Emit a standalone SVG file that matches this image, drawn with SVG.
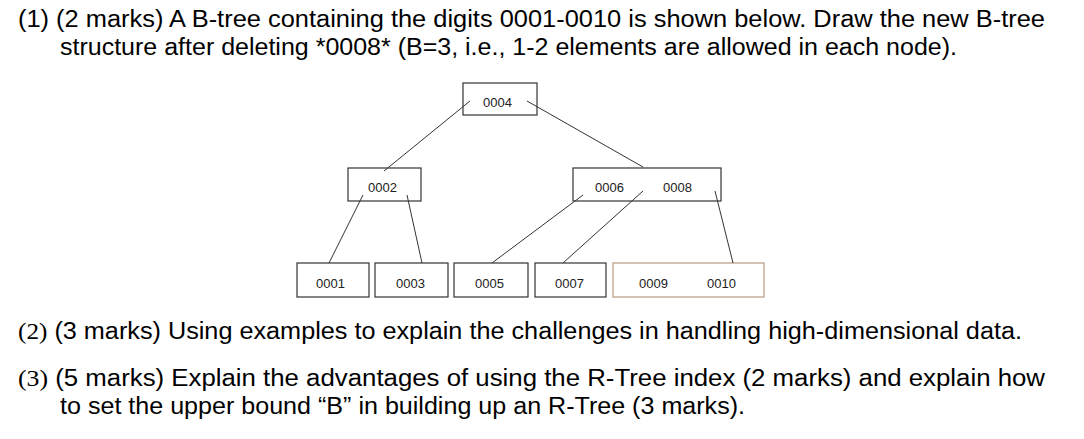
<svg xmlns="http://www.w3.org/2000/svg" width="1084" height="439" viewBox="0 0 1084 439">
<style>
.t{font-family:"Liberation Sans",Arial,sans-serif;font-size:23.5px;fill:#000}
.s{font-family:"Liberation Serif",serif}
.n rect{fill:#fff;stroke:#333;stroke-width:1.2}
.n text{font-family:"Liberation Sans",Arial,sans-serif;font-size:13px;fill:#222}
.c line{stroke:#333;stroke-width:1}
</style>
<rect width="1084" height="439" fill="#fff"/>
<text class="t" x="18" y="27" textLength="1027" lengthAdjust="spacingAndGlyphs">(1) (2 marks) A B-tree containing the digits 0001-0010 is shown below. Draw the new B-tree</text>
<text class="t" x="60" y="55" textLength="897" lengthAdjust="spacingAndGlyphs">structure after deleting *0008* (B=3, i.e., 1-2 elements are allowed in each node).</text>
<g id="n0004" class="n"><rect x="463" y="83" width="74" height="32"/><text x="483" y="107">0004</text></g>
<g id="n0002" class="n"><rect x="348" y="168" width="73" height="33"/><text x="368" y="192">0002</text></g>
<g id="n0006" class="n"><rect x="573" y="168" width="148" height="33"/><text x="595" y="192">0006</text><text x="663" y="192">0008</text></g>
<g id="n0001" class="n"><rect x="297" y="263" width="72" height="34"/><text x="316" y="288">0001</text></g>
<g id="n0003" class="n"><rect x="375" y="263" width="73" height="34"/><text x="396" y="288">0003</text></g>
<g id="n0005" class="n"><rect x="454" y="263" width="74" height="34"/><text x="475" y="288">0005</text></g>
<g id="n0007" class="n"><rect x="535" y="263" width="71" height="34"/><text x="555" y="288">0007</text></g>
<g id="n0009" class="n"><rect x="613" y="263" width="151" height="34" style="stroke:#b89a80"/><text x="639" y="288">0009</text><text x="707" y="288">0010</text></g>
<g id="connectors" class="c">
<line x1="470" y1="101" x2="384" y2="171"/>
<line x1="527" y1="101" x2="643" y2="167"/>
<line x1="363" y1="195" x2="329" y2="263"/>
<line x1="407" y1="195" x2="422" y2="263"/>
<line x1="583" y1="195" x2="492" y2="263"/>
<line x1="643" y1="191" x2="563" y2="263"/>
<line x1="715" y1="191" x2="733" y2="263"/>
</g>
<text class="t" x="18" y="339" textLength="1004" lengthAdjust="spacingAndGlyphs"><tspan class="s">(2)</tspan> (3 marks) Using examples to explain the challenges in handling high-dimensional data.</text>
<text class="t" x="18" y="386" textLength="1027" lengthAdjust="spacingAndGlyphs"><tspan class="s">(3)</tspan> (5 marks) Explain the advantages of using the R-Tree index (2 marks) and explain how</text>
<text class="t" x="60" y="414" textLength="685" lengthAdjust="spacingAndGlyphs">to set the upper bound “B” in building up an R-Tree (3 marks).</text>
</svg>
